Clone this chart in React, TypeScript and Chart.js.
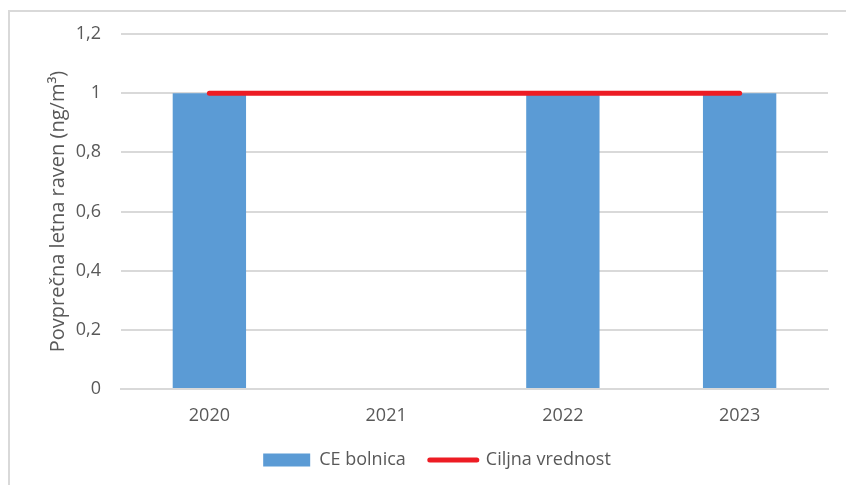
import React, { useEffect, useRef } from "react";
import { Chart, registerables } from "chart.js";

Chart.register(...registerables);

const categories = ["2020", "2021", "2022", "2023"];
const ceBolnica: (number | null)[] = [1, null, 1, 1];
const ciljnaVrednost: number[] = [1, 1, 1, 1];
const seriesNames = ["CE bolnica", "Ciljna vrednost"];
const yTitle = "Povprečna letna raven (ng/m³)";

const FONT = "'Open Sans', sans-serif";
const TEXT = "#595959";
const GRID = "#D9D9D9";
const BLUE = "#5B9BD5";
const RED = "#ED1C24";

const framePlugin = {
  id: "frame",
  beforeDraw(chart: any) {
    const ctx = chart.ctx;
    ctx.save();
    ctx.fillStyle = "#ffffff";
    ctx.fillRect(0, 0, chart.width, chart.height);
    ctx.fillStyle = GRID;
    ctx.fillRect(8, 10, 2, chart.height - 10);
    ctx.fillRect(8, 10, chart.width - 8, 2);
    ctx.restore();
  },
};

export default function App() {
  const ref = useRef<HTMLCanvasElement>(null);
  useEffect(() => {
    if (!ref.current) return;
    const chart = new Chart(ref.current, {
      type: "bar",
      data: {
        labels: categories,
        datasets: [
          {
            type: "bar",
            label: seriesNames[0],
            data: ceBolnica,
            backgroundColor: BLUE,
            borderWidth: 0,
            barPercentage: 0.415,
            categoryPercentage: 1,
            order: 1,
          },
          {
            type: "line",
            label: seriesNames[1],
            data: ciljnaVrednost,
            borderColor: RED,
            backgroundColor: RED,
            borderWidth: 5,
            borderCapStyle: "round",
            pointRadius: 0,
            pointHoverRadius: 0,
            fill: false,
            order: 0,
          },
        ] as any,
      },
      options: {
        animation: false,
        responsive: false,
        layout: { padding: { left: 46, right: 18, top: 34, bottom: 6 } },
        plugins: {
          tooltip: { enabled: false },
          legend: {
            position: "bottom",
            labels: {
              font: { family: FONT, size: 18 },
              color: TEXT,
              usePointStyle: true,
              pointStyleWidth: 47,
              boxHeight: 13,
              padding: 24,
              generateLabels: (chart: any) =>
                chart.data.datasets.map((ds: any, i: number) =>
                  i === 0
                    ? {
                        text: ds.label,
                        fillStyle: BLUE,
                        strokeStyle: BLUE,
                        lineWidth: 0,
                        pointStyle: "rect",
                        datasetIndex: i,
                        hidden: false,
                        fontColor: TEXT,
                      }
                    : {
                        text: ds.label,
                        fillStyle: RED,
                        strokeStyle: RED,
                        lineWidth: 5,
                        lineCap: "round",
                        pointStyle: "line",
                        datasetIndex: i,
                        hidden: false,
                        fontColor: TEXT,
                      }
                ),
            },
          },
        },
        scales: {
          x: {
            grid: { display: false, drawTicks: false },
            border: { display: true, color: GRID, width: 2 },
            ticks: { font: { family: FONT, size: 18 }, color: TEXT, padding: 16 },
            afterFit: (s: any) => {
              s.height = 38;
            },
          },
          y: {
            min: 0,
            max: 1.2,
            ticks: {
              stepSize: 0.2,
              font: { family: FONT, size: 18 },
              color: TEXT,
              padding: 20,
              callback: (v: any) => Number(Number(v).toFixed(1)).toString().replace(".", ","),
            },
            grid: { color: GRID, lineWidth: 2, drawTicks: false },
            border: { display: false },
            title: {
              display: true,
              text: yTitle,
              font: { family: FONT, size: 20 },
              color: TEXT,
              padding: { top: 0, bottom: 0 },
            },
            afterFit: (s: any) => {
              s.width = 75;
            },
          },
        },
      },
      plugins: [framePlugin],
    });
    return () => chart.destroy();
  }, []);
  return (
    <div style={{ position: "fixed", left: 0, top: 0, width: 846, height: 485 }}>
      <canvas ref={ref} width={846} height={485} style={{ display: "block" }} />
    </div>
  );
}
